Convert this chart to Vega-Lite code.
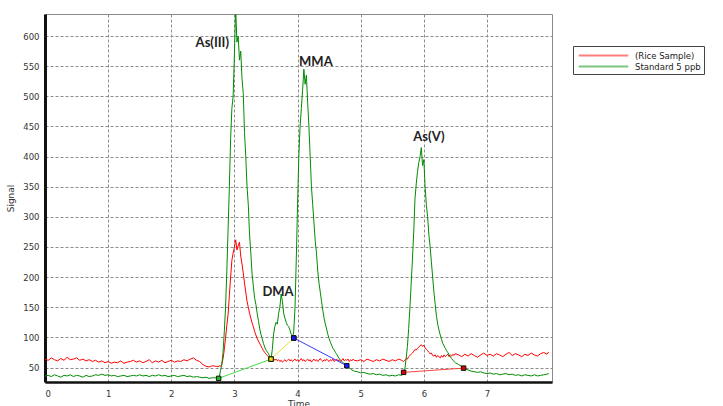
{
  "$schema": "https://vega.github.io/schema/vega-lite/v6.json",
  "width": 507,
  "height": 368,
  "autosize": {"type": "none"},
  "padding": {"left": 45, "top": 14, "right": 171, "bottom": 24},
  "background": "white",
  "config": {
    "view": {"stroke": "#8a8a8a", "strokeWidth": 1},
    "axis": {
      "labelFont": "DejaVu Sans", "labelFontSize": 8.5, "labelColor": "#333", "labelOverlap": false,
      "titleFont": "DejaVu Sans", "titleFontSize": 9, "titleFontWeight": "normal", "titleColor": "#333",
      "grid": true, "gridColor": "#8c8c8c", "gridDash": [3, 2], "gridWidth": 1,
      "ticks": false, "domainColor": "#111"
    }
  },
  "datasets": {
    "traces": [
      {"t":0.00,"rice":64,"standard":36},{"t":0.05,"rice":62,"standard":37},{"t":0.10,"rice":66,"standard":35},{"t":0.15,"rice":63,"standard":38},
      {"t":0.20,"rice":61,"standard":36},{"t":0.25,"rice":65,"standard":34},{"t":0.30,"rice":62,"standard":37},{"t":0.35,"rice":67,"standard":36},
      {"t":0.40,"rice":63,"standard":38},{"t":0.45,"rice":64,"standard":35},{"t":0.50,"rice":66,"standard":37},{"t":0.55,"rice":62,"standard":36},
      {"t":0.60,"rice":64,"standard":34},{"t":0.65,"rice":61,"standard":37},{"t":0.70,"rice":63,"standard":35},{"t":0.75,"rice":60,"standard":36},
      {"t":0.80,"rice":62,"standard":38},{"t":0.85,"rice":59,"standard":37},{"t":0.90,"rice":61,"standard":39},{"t":0.95,"rice":58,"standard":37},
      {"t":1.00,"rice":60,"standard":38},{"t":1.05,"rice":57,"standard":36},{"t":1.10,"rice":59,"standard":37},{"t":1.15,"rice":58,"standard":35},
      {"t":1.20,"rice":61,"standard":36},{"t":1.25,"rice":57,"standard":37},{"t":1.30,"rice":59,"standard":35},{"t":1.35,"rice":60,"standard":36},
      {"t":1.40,"rice":62,"standard":37},{"t":1.45,"rice":59,"standard":36},{"t":1.50,"rice":61,"standard":38},{"t":1.55,"rice":58,"standard":36},
      {"t":1.60,"rice":60,"standard":37},{"t":1.65,"rice":63,"standard":35},{"t":1.70,"rice":58,"standard":37},{"t":1.75,"rice":61,"standard":36},
      {"t":1.80,"rice":59,"standard":38},{"t":1.85,"rice":62,"standard":36},{"t":1.90,"rice":58,"standard":37},{"t":1.95,"rice":60,"standard":35},
      {"t":2.00,"rice":62,"standard":36},{"t":2.05,"rice":59,"standard":37},{"t":2.10,"rice":61,"standard":35},{"t":2.15,"rice":60,"standard":36},
      {"t":2.20,"rice":63,"standard":37},{"t":2.25,"rice":61,"standard":35},{"t":2.30,"rice":64,"standard":36},{"t":2.35,"rice":66,"standard":34},
      {"t":2.40,"rice":62,"standard":35},{"t":2.45,"rice":60,"standard":34},{"t":2.50,"rice":55,"standard":33},{"t":2.55,"rice":52,"standard":34},
      {"t":2.60,"rice":51,"standard":32},{"t":2.65,"rice":53,"standard":33},{"t":2.70,"rice":52,"standard":33},
      {"t":2.72,"rice":52,"standard":33},{"t":2.74,"rice":51,"standard":32},{"t":2.76,"rice":53,"standard":34},{"t":2.78,"rice":52,"standard":45},
      {"t":2.80,"rice":55,"standard":55},{"t":2.82,"rice":65,"standard":75},{"t":2.84,"rice":80,"standard":110},{"t":2.86,"rice":100,"standard":150},
      {"t":2.88,"rice":120,"standard":210},{"t":2.90,"rice":138,"standard":280},{"t":2.92,"rice":170,"standard":350},{"t":2.94,"rice":200,"standard":430},
      {"t":2.96,"rice":228,"standard":480},{"t":2.98,"rice":240,"standard":500},{"t":3.00,"rice":250,"standard":570},{"t":3.02,"rice":262,"standard":645},
      {"t":3.04,"rice":245,"standard":590},{"t":3.06,"rice":252,"standard":600},{"t":3.08,"rice":258,"standard":560},{"t":3.10,"rice":235,"standard":575},
      {"t":3.12,"rice":222,"standard":530},{"t":3.14,"rice":207,"standard":505},{"t":3.16,"rice":190,"standard":440},{"t":3.18,"rice":175,"standard":400},
      {"t":3.20,"rice":160,"standard":350},{"t":3.22,"rice":150,"standard":320},{"t":3.24,"rice":140,"standard":270},{"t":3.26,"rice":132,"standard":240},
      {"t":3.28,"rice":124,"standard":205},{"t":3.30,"rice":118,"standard":185},{"t":3.32,"rice":110,"standard":165},{"t":3.34,"rice":104,"standard":155},
      {"t":3.36,"rice":98,"standard":140},{"t":3.38,"rice":94,"standard":128},{"t":3.40,"rice":90,"standard":115},{"t":3.42,"rice":86,"standard":105},
      {"t":3.44,"rice":82,"standard":98},{"t":3.46,"rice":78,"standard":90},{"t":3.48,"rice":75,"standard":84},{"t":3.50,"rice":72,"standard":79},
      {"t":3.52,"rice":70,"standard":76},{"t":3.54,"rice":68,"standard":73},{"t":3.56,"rice":66,"standard":68},{"t":3.58,"rice":64,"standard":64},
      {"t":3.60,"rice":63,"standard":80},{"t":3.62,"rice":65,"standard":105},{"t":3.64,"rice":62,"standard":118},{"t":3.66,"rice":64,"standard":125},
      {"t":3.68,"rice":61,"standard":122},{"t":3.70,"rice":63,"standard":140},{"t":3.72,"rice":60,"standard":150},{"t":3.74,"rice":62,"standard":172},
      {"t":3.76,"rice":59,"standard":160},{"t":3.78,"rice":61,"standard":140},{"t":3.80,"rice":63,"standard":132},{"t":3.82,"rice":60,"standard":125},
      {"t":3.84,"rice":62,"standard":120},{"t":3.86,"rice":64,"standard":118},{"t":3.88,"rice":61,"standard":112},{"t":3.90,"rice":63,"standard":105},
      {"t":3.92,"rice":60,"standard":99},{"t":3.94,"rice":62,"standard":110},{"t":3.96,"rice":64,"standard":150},{"t":3.98,"rice":61,"standard":230},
      {"t":4.00,"rice":63,"standard":320},{"t":4.02,"rice":60,"standard":400},{"t":4.04,"rice":62,"standard":450},{"t":4.06,"rice":65,"standard":480},
      {"t":4.08,"rice":61,"standard":510},{"t":4.10,"rice":63,"standard":545},{"t":4.12,"rice":60,"standard":520},{"t":4.14,"rice":62,"standard":535},
      {"t":4.16,"rice":64,"standard":490},{"t":4.18,"rice":61,"standard":450},{"t":4.20,"rice":63,"standard":400},{"t":4.22,"rice":59,"standard":350},
      {"t":4.24,"rice":62,"standard":320},{"t":4.26,"rice":64,"standard":290},{"t":4.28,"rice":61,"standard":260},{"t":4.30,"rice":63,"standard":240},
      {"t":4.32,"rice":60,"standard":210},{"t":4.34,"rice":62,"standard":190},{"t":4.36,"rice":65,"standard":175},{"t":4.38,"rice":62,"standard":160},
      {"t":4.40,"rice":60,"standard":145},{"t":4.42,"rice":63,"standard":132},{"t":4.44,"rice":61,"standard":122},{"t":4.46,"rice":64,"standard":114},
      {"t":4.48,"rice":62,"standard":105},{"t":4.50,"rice":60,"standard":98},{"t":4.52,"rice":63,"standard":92},{"t":4.54,"rice":61,"standard":87},
      {"t":4.56,"rice":64,"standard":82},{"t":4.58,"rice":60,"standard":79},{"t":4.60,"rice":62,"standard":75},{"t":4.62,"rice":64,"standard":72},
      {"t":4.64,"rice":61,"standard":68},{"t":4.66,"rice":63,"standard":65},{"t":4.68,"rice":60,"standard":62},{"t":4.70,"rice":62,"standard":60},
      {"t":4.72,"rice":65,"standard":58},{"t":4.74,"rice":61,"standard":56},{"t":4.76,"rice":63,"standard":54},{"t":4.78,"rice":62,"standard":53},
      {"t":4.80,"rice":64,"standard":51},{"t":4.82,"rice":60,"standard":49},{"t":4.84,"rice":63,"standard":48},{"t":4.86,"rice":61,"standard":46},
      {"t":4.88,"rice":64,"standard":45},{"t":4.90,"rice":62,"standard":44},
      {"t":4.95,"rice":61,"standard":43},{"t":5.00,"rice":63,"standard":41},{"t":5.05,"rice":60,"standard":42},{"t":5.10,"rice":64,"standard":40},
      {"t":5.15,"rice":62,"standard":39},{"t":5.20,"rice":60,"standard":40},{"t":5.25,"rice":63,"standard":38},{"t":5.30,"rice":61,"standard":39},
      {"t":5.35,"rice":64,"standard":37},{"t":5.40,"rice":62,"standard":38},{"t":5.45,"rice":60,"standard":36},{"t":5.50,"rice":63,"standard":37},
      {"t":5.55,"rice":61,"standard":36},{"t":5.60,"rice":64,"standard":38},{"t":5.65,"rice":62,"standard":37},
      {"t":5.68,"rice":60,"standard":42},{"t":5.70,"rice":62,"standard":48},{"t":5.72,"rice":65,"standard":65},{"t":5.74,"rice":64,"standard":85},
      {"t":5.76,"rice":68,"standard":115},{"t":5.78,"rice":70,"standard":150},{"t":5.80,"rice":72,"standard":190},{"t":5.82,"rice":74,"standard":230},
      {"t":5.84,"rice":77,"standard":275},{"t":5.86,"rice":80,"standard":330},{"t":5.88,"rice":79,"standard":355},{"t":5.90,"rice":82,"standard":375},
      {"t":5.92,"rice":84,"standard":390},{"t":5.94,"rice":86,"standard":400},{"t":5.96,"rice":88,"standard":415},{"t":5.98,"rice":85,"standard":385},
      {"t":6.00,"rice":87,"standard":395},{"t":6.02,"rice":83,"standard":350},{"t":6.04,"rice":80,"standard":320},{"t":6.06,"rice":78,"standard":300},
      {"t":6.08,"rice":75,"standard":270},{"t":6.10,"rice":73,"standard":250},{"t":6.12,"rice":74,"standard":225},{"t":6.14,"rice":70,"standard":200},
      {"t":6.16,"rice":69,"standard":175},{"t":6.18,"rice":71,"standard":155},{"t":6.20,"rice":67,"standard":135},{"t":6.22,"rice":70,"standard":122},
      {"t":6.24,"rice":68,"standard":112},{"t":6.26,"rice":66,"standard":104},{"t":6.28,"rice":70,"standard":97},{"t":6.30,"rice":67,"standard":90},
      {"t":6.32,"rice":71,"standard":86},{"t":6.34,"rice":68,"standard":82},{"t":6.36,"rice":70,"standard":78},{"t":6.38,"rice":72,"standard":75},
      {"t":6.40,"rice":68,"standard":71},{"t":6.42,"rice":71,"standard":68},{"t":6.44,"rice":69,"standard":65},{"t":6.46,"rice":72,"standard":62},
      {"t":6.48,"rice":70,"standard":60},{"t":6.50,"rice":73,"standard":58},
      {"t":6.55,"rice":71,"standard":55},{"t":6.60,"rice":68,"standard":52},{"t":6.65,"rice":72,"standard":49},{"t":6.70,"rice":69,"standard":46},
      {"t":6.75,"rice":73,"standard":44},{"t":6.80,"rice":70,"standard":43},{"t":6.85,"rice":67,"standard":42},{"t":6.90,"rice":71,"standard":43},
      {"t":6.95,"rice":74,"standard":41},{"t":7.00,"rice":70,"standard":40},{"t":7.05,"rice":72,"standard":41},{"t":7.10,"rice":69,"standard":39},
      {"t":7.15,"rice":73,"standard":40},{"t":7.20,"rice":71,"standard":38},{"t":7.25,"rice":68,"standard":39},{"t":7.30,"rice":72,"standard":40},
      {"t":7.35,"rice":75,"standard":38},{"t":7.40,"rice":70,"standard":39},{"t":7.45,"rice":73,"standard":37},{"t":7.50,"rice":71,"standard":38},
      {"t":7.55,"rice":68,"standard":36},{"t":7.60,"rice":72,"standard":38},{"t":7.65,"rice":70,"standard":37},{"t":7.70,"rice":74,"standard":36},
      {"t":7.75,"rice":71,"standard":38},{"t":7.80,"rice":69,"standard":36},{"t":7.85,"rice":73,"standard":37},{"t":7.90,"rice":75,"standard":38},
      {"t":7.95,"rice":72,"standard":39},{"t":7.98,"rice":76,"standard":40}
    ],
    "baselines": [
      {"seg":"g","t":2.75,"v":32},{"seg":"g","t":3.58,"v":64},
      {"seg":"y","t":3.58,"v":64},{"seg":"y","t":3.94,"v":99},
      {"seg":"b","t":3.94,"v":99},{"seg":"b","t":4.78,"v":53},
      {"seg":"rd","t":5.68,"v":42},{"seg":"rd","t":6.63,"v":49}
    ],
    "labels": [
      {"label":"As(III)","t":2.65,"v":588},
      {"label":"MMA","t":4.29,"v":557},
      {"label":"DMA","t":3.69,"v":175},
      {"label":"As(V)","t":6.08,"v":433}
    ]
  },
  "layer": [
    {
      "data": {"name": "traces"},
      "transform": [{"fold": ["rice", "standard"], "as": ["series", "v"]}],
      "mark": {"type": "line", "strokeWidth": 1, "clip": true},
      "encoding": {
        "x": {"field": "t", "type": "quantitative",
          "scale": {"domain": [0, 8.03], "nice": false, "zero": false},
          "axis": {"values": [0,1,2,3,4,5,6,7], "tickCount": 8, "format": "d", "title": "Time", "labelPadding": 7, "titlePadding": 2, "domainWidth": 2.5, "labelOverlap": false}},
        "y": {"field": "v", "type": "quantitative",
          "scale": {"domain": [26, 636.6], "nice": false, "zero": false},
          "axis": {"values": [50,100,150,200,250,300,350,400,450,500,550,600], "tickCount": 12, "title": "Signal", "labelPadding": 6, "titlePadding": 7, "domainWidth": 3, "labelOverlap": false, "labelBound": false, "labelFlush": false}},
        "color": {"field": "series", "type": "nominal",
          "scale": {"domain": ["rice", "standard"], "range": ["#ff0000", "#008c00"]},
          "legend": {
            "title": null, "orient": "none", "legendX": 528, "legendY": 32,
            "symbolType": "M-4.5,0H4.5", "symbolSize": 121, "symbolStrokeWidth": 2, "symbolOpacity": 0.5, "symbolOffset": 21,
            "labelExpr": "datum.value == 'rice' ? '(Rice Sample)' : 'Standard 5 ppb'",
            "labelFont": "DejaVu Sans", "labelFontSize": 8.5, "labelColor": "#222", "labelOffset": 25,
            "strokeColor": "#444", "fillColor": "white", "padding": 3, "rowPadding": 0
          }}
      }
    },
    {
      "data": {"name": "baselines"},
      "mark": {"type": "line", "strokeWidth": 1},
      "encoding": {
        "x": {"field": "t", "type": "quantitative", "scale": {"domain": [0, 8.03], "nice": false, "zero": false}},
        "y": {"field": "v", "type": "quantitative", "scale": {"domain": [26, 636.6], "nice": false, "zero": false}},
        "color": {"field": "seg", "type": "nominal",
          "scale": {"domain": ["g", "y", "b", "rd"], "range": ["#44dd44", "#e0e030", "#3a3aff", "#ff4444"]},
          "legend": null}
      }
    },
    {
      "data": {"name": "baselines"},
      "mark": {"type": "square", "size": 20, "filled": true, "opacity": 1, "stroke": "#111", "strokeWidth": 1},
      "encoding": {
        "x": {"field": "t", "type": "quantitative", "scale": {"domain": [0, 8.03], "nice": false, "zero": false}},
        "y": {"field": "v", "type": "quantitative", "scale": {"domain": [26, 636.6], "nice": false, "zero": false}},
        "color": {"field": "seg", "type": "nominal",
          "scale": {"domain": ["g", "y", "b", "rd"], "range": ["#22bb22", "#e6e600", "#1a1aff", "#dd0000"]},
          "legend": null}
      }
    },
    {
      "data": {"name": "labels"},
      "mark": {"type": "text", "font": "Lato", "fontWeight": "bold", "fontSize": 13, "color": "#222", "align": "center", "baseline": "middle"},
      "encoding": {
        "x": {"field": "t", "type": "quantitative", "scale": {"domain": [0, 8.03], "nice": false, "zero": false}},
        "y": {"field": "v", "type": "quantitative", "scale": {"domain": [26, 636.6], "nice": false, "zero": false}},
        "text": {"field": "label"}
      }
    }
  ],
  "resolve": {"scale": {"color": "independent"}}
}
